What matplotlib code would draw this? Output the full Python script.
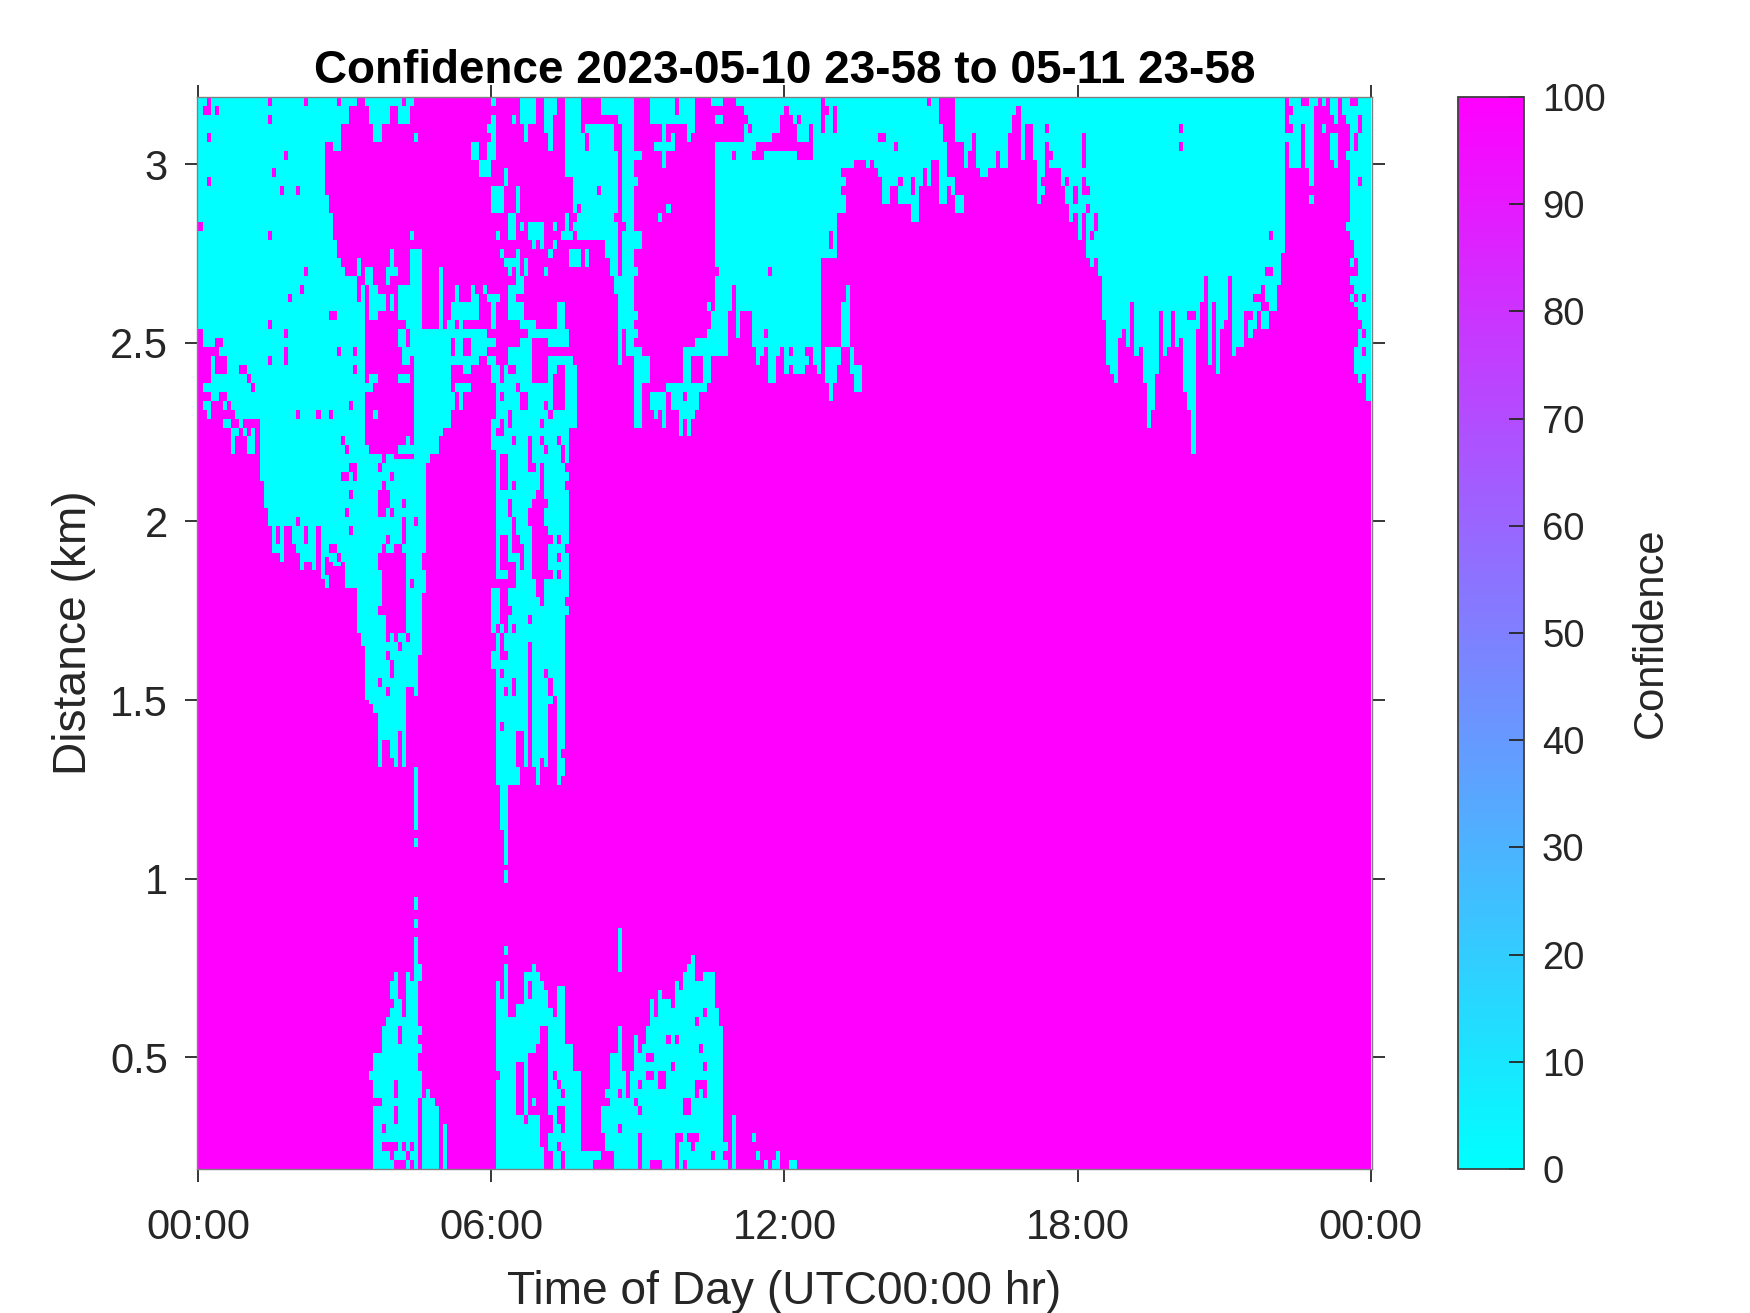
import numpy as np
import matplotlib
matplotlib.use('Agg')
import matplotlib.pyplot as plt

plt.rcParams['font.family'] = ['Liberation Sans', 'DejaVu Sans']

title_text = 'Confidence 2023-05-10 23-58 to 05-11 23-58'
x_label = 'Time of Day (UTC00:00 hr)'
y_label = 'Distance (km)'
cbar_label = 'Confidence'
x_ticks = [0, 6, 12, 18, 24]
x_tick_labels = ['00:00', '06:00', '12:00', '18:00', '00:00']
y_ticks = [0.5, 1, 1.5, 2, 2.5, 3]
y_tick_labels = ['0.5', '1', '1.5', '2', '2.5', '3']
cbar_ticks = list(range(0, 101, 10))

n_time = 288    # 5 min bins
n_range = 240   # 12.5 m gates
range_top = 3.1875
range_bottom = 0.1875

# lowest cyan gate (counted from the top) of columns that are cyan from the top down
top_mass_left = {0: 52, 1: 56, 2: 56, 3: 56, 4: 58, 5: 58, 6: 58, 7: 68, 8: 70, 9: 76, 10: 74, 11: 76,
                 12: 72, 13: 72, 14: 72, 15: 86, 16: 92, 17: 96, 18: 102, 19: 102, 20: 104, 21: 96,
                 22: 96, 23: 100, 24: 102, 25: 106, 26: 104, 27: 104, 28: 106, 29: 96, 30: 108}
top_mass_mid = {127: 56, 128: 56, 129: 56, 130: 48, 131: 42, 132: 54, 133: 48, 134: 48, 135: 48, 136: 56,
                137: 60, 138: 58, 139: 56, 140: 64, 141: 64, 142: 62, 143: 58, 144: 62, 145: 60, 146: 62,
                147: 62, 148: 62, 149: 60, 150: 60, 151: 60, 152: 62, 153: 48, 154: 64, 155: 68, 156: 64,
                157: 26, 158: 26, 159: 16, 160: 16, 161: 14, 162: 14, 163: 14, 164: 16}
top_mass_right = {165: 14, 166: 16, 167: 18, 168: 24, 169: 24, 170: 20, 171: 20, 172: 24, 173: 24, 174: 24,
                  175: 28, 176: 28, 177: 20, 178: 18, 179: 20, 180: 14, 181: 14, 182: 24, 183: 24, 184: 24,
                  185: 22, 186: 26, 187: 26, 188: 16, 189: 12, 190: 8, 191: 16, 192: 18, 193: 18, 194: 16,
                  195: 16, 196: 12, 197: 16, 198: 16, 199: 8, 200: 4, 201: 2, 202: 14, 203: 6, 204: 6,
                  205: 14, 206: 24, 207: 22, 208: 14, 209: 16, 210: 16, 211: 16, 212: 20, 213: 24, 214: 28,
                  215: 26, 216: 32, 217: 26, 218: 36, 219: 38, 220: 36, 221: 40, 222: 50, 223: 60, 224: 62,
                  225: 64, 226: 54, 227: 52, 228: 56, 229: 46, 230: 58, 231: 56, 232: 64, 233: 74, 234: 70,
                  235: 62, 236: 48, 237: 58, 238: 56, 239: 48, 240: 56, 241: 54, 242: 66, 243: 70, 244: 80,
                  245: 52, 246: 46, 247: 40, 248: 60, 249: 46, 250: 62, 251: 52, 252: 50, 253: 40, 254: 58,
                  255: 56, 256: 56, 257: 48, 258: 54, 259: 52, 260: 48, 261: 52, 262: 52, 263: 50, 264: 48,
                  265: 42, 266: 35}

# first and last cyan gate per column under the left mass and the 06-07h plume
lower_left_spans = {31: (22, 110), 32: (26, 104), 33: (32, 105), 34: (36, 105), 35: (38, 105), 36: (40, 110),
                    37: (40, 110), 38: (40, 110), 39: (46, 120), 40: (42, 123), 41: (80, 135), 42: (80, 136),
                    43: (80, 138), 44: (80, 150), 45: (80, 144), 46: (80, 144), 47: (80, 148), 48: (80, 150),
                    49: (80, 142), 50: (80, 150), 51: (80, 132), 52: (80, 132), 53: (80, 134), 54: (80, 125),
                    55: (80, 111), 56: (80, 82)}

# other cyan patches: first col, stop col, first gate, stop gate
cyan_patches = [
    (3, 4, 58, 64), (4, 7, 62, 66), (1, 5, 64, 66), (3, 5, 66, 68), (1, 3, 68, 70), (2, 3, 70, 72),
    (6, 7, 68, 70), (6, 8, 72, 74), (8, 9, 74, 80), (12, 14, 76, 80), (13, 14, 74, 76),
    (31, 33, 0, 10), (33, 35, 0, 12), (35, 37, 0, 6), (37, 39, 0, 2),
    (41, 48, 0, 2), (42, 47, 2, 6), (43, 45, 6, 10), (48, 50, 0, 2), (51, 53, 0, 2), (49, 52, 2, 6), (53, 54, 8, 10),
    (39, 40, 36, 40), (41, 43, 38, 42), (42, 44, 42, 50), (43, 46, 44, 48), (47, 48, 44, 48),
    (46, 49, 38, 40), (47, 48, 34, 38), (46, 47, 40, 42), (49, 55, 42, 50), (52, 55, 34, 42), (52, 53, 30, 32),
    (51, 55, 50, 52), (49, 51, 52, 56), (52, 57, 52, 58), (49, 52, 62, 64), (42, 44, 62, 64), (40, 43, 64, 66),
    (43, 44, 70, 72), (41, 42, 78, 80), (51, 52, 76, 80), (49, 53, 78, 80), (53, 58, 58, 80), (50, 52, 56, 60),
    (55, 62, 52, 72), (59, 60, 38, 52), (60, 62, 72, 74), (58, 60, 72, 76), (58, 59, 76, 80), (62, 63, 66, 70),
    (63, 64, 42, 46), (62, 69, 46, 50), (67, 68, 42, 46), (61, 63, 50, 54), (64, 65, 50, 52), (62, 70, 52, 54),
    (63, 65, 54, 56), (67, 69, 54, 56), (63, 65, 56, 58), (67, 71, 56, 58), (61, 69, 58, 60), (65, 67, 60, 62),
    (63, 67, 64, 66), (64, 65, 66, 70), (70, 71, 42, 44), (71, 74, 44, 46), (72, 73, 46, 52), (71, 73, 54, 56),
    (71, 73, 58, 60), (67, 69, 44, 50), (67, 71, 52, 54), (69, 73, 54, 56),
    (72, 73, 0, 2), (72, 73, 4, 10), (71, 72, 6, 8), (67, 69, 10, 14), (69, 72, 14, 18), (71, 73, 10, 14),
    (72, 75, 20, 26), (75, 76, 16, 20), (76, 78, 26, 32), (78, 79, 20, 26), (77, 78, 4, 6),
    (79, 83, 0, 6), (80, 81, 6, 10), (85, 88, 0, 4), (85, 87, 4, 8), (86, 87, 8, 12),
    (90, 94, 0, 12), (94, 97, 6, 12), (99, 103, 0, 4), (97, 102, 6, 12), (90, 103, 12, 16), (92, 103, 16, 32), (90, 92, 16, 18),
    (100, 103, 32, 36), (101, 103, 36, 40), (102, 104, 40, 44), (103, 107, 0, 6), (104, 107, 6, 44),
    (103, 107, 44, 52), (105, 108, 52, 58), (106, 109, 56, 58), (107, 111, 58, 64), (107, 109, 64, 74),
    (103, 104, 50, 60), (107, 109, 12, 14), (107, 108, 18, 20), (107, 109, 30, 34), (107, 108, 38, 40),
    (107, 108, 48, 50), (73, 74, 30, 32), (79, 80, 28, 30), (81, 85, 28, 32), (82, 83, 32, 34), (84, 85, 32, 34),
    (87, 88, 28, 30), (87, 88, 32, 34), (86, 87, 34, 36), (74, 75, 34, 36), (75, 79, 36, 38), (78, 79, 34, 40),
    (80, 81, 36, 40), (76, 77, 38, 40), (78, 80, 40, 44), (85, 86, 38, 40), (89, 92, 30, 32), (90, 91, 26, 30),
    (91, 94, 34, 38), (95, 96, 34, 38), (76, 78, 42, 46), (76, 80, 46, 50), (79, 83, 50, 52), (81, 87, 52, 54),
    (88, 90, 46, 52), (86, 91, 52, 56),
    # plume 06-07h
    (72, 73, 60, 64), (72, 73, 72, 74), (72, 91, 60, 79), (76, 82, 56, 60), (79, 82, 54, 56), (86, 92, 58, 60),
    (91, 93, 60, 74), (73, 91, 79, 116), (72, 73, 110, 120), (72, 73, 124, 128), (73, 90, 116, 148),
    (73, 79, 148, 154), (79, 81, 148, 150), (82, 84, 148, 150), (83, 84, 150, 154), (85, 86, 148, 150),
    (88, 90, 148, 152), (88, 89, 152, 154), (74, 76, 154, 164), (75, 76, 164, 172), (75, 76, 173, 176), (75, 76, 190, 192),
    (53, 54, 150, 164), (53, 54, 166, 168),
    # upper middle
    (111, 112, 0, 2), (112, 117, 0, 4), (111, 113, 2, 6), (112, 122, 4, 6), (114, 115, 6, 16), (112, 116, 10, 12),
    (116, 117, 8, 12), (118, 122, 0, 4), (120, 121, 6, 10), (121, 122, 6, 8), (126, 129, 0, 2), (127, 128, 4, 6),
    (131, 133, 0, 2), (133, 134, 0, 2), (115, 116, 24, 26), (113, 114, 26, 28), (125, 126, 46, 48), (125, 126, 52, 54),
    # trough round 09-11h
    (111, 115, 66, 70), (112, 113, 70, 72), (114, 115, 70, 74), (116, 123, 64, 70), (118, 122, 70, 72),
    (118, 119, 72, 76), (120, 121, 72, 76), (115, 125, 64, 66), (119, 126, 56, 64), (121, 130, 56, 58),
    (122, 130, 54, 56), (126, 130, 48, 56), (127, 131, 42, 48), (157, 160, 46, 56), (159, 160, 42, 46),
    (154, 158, 56, 60), (154, 157, 30, 36), (160, 161, 56, 62), (161, 163, 60, 66),
    # far right
    (267, 268, 8, 10), (268, 271, 0, 16), (271, 272, 2, 6), (272, 273, 2, 16), (273, 274, 0, 20), (273, 274, 22, 24),
    (274, 275, 0, 2), (276, 277, 0, 2), (276, 277, 6, 8), (278, 279, 0, 4), (278, 279, 8, 14), (279, 280, 0, 6),
    (279, 280, 8, 16), (281, 282, 0, 4), (282, 283, 0, 6), (282, 283, 12, 14), (282, 283, 28, 30),
    (283, 284, 0, 32), (283, 284, 36, 38), (283, 284, 40, 42), (283, 284, 44, 46), (284, 285, 0, 36),
    (284, 285, 40, 44), (284, 285, 46, 47), (284, 285, 56, 62), (285, 286, 0, 50), (285, 286, 52, 62),
    (285, 286, 62, 64), (286, 287, 0, 52), (286, 287, 54, 56), (286, 287, 58, 62), (287, 288, 0, 68),
    # low level clusters
    (42, 43, 218, 220), (43, 45, 214, 240), (45, 46, 208, 240), (46, 47, 206, 240), (47, 48, 198, 202), (47, 48, 204, 240),
    (48, 49, 196, 240), (49, 50, 202, 208), (49, 50, 212, 240), (50, 51, 206, 240), (51, 52, 196, 240),
    (52, 53, 198, 240), (53, 54, 179, 182), (53, 54, 184, 186), (53, 54, 188, 240), (54, 55, 194, 198),
    (54, 55, 208, 210), (54, 55, 212, 214), (54, 55, 218, 224), (55, 56, 224, 240), (56, 57, 222, 240),
    (57, 58, 224, 240), (58, 59, 226, 240), (60, 61, 230, 240),
    (73, 74, 198, 218), (73, 74, 220, 240), (74, 75, 202, 240), (75, 76, 194, 240), (76, 78, 206, 240),
    (78, 80, 203, 240), (80, 81, 196, 240), (81, 82, 196, 198), (81, 82, 202, 240), (82, 83, 194, 240),
    (83, 84, 196, 240), (84, 85, 198, 240), (85, 86, 200, 240), (86, 87, 204, 240), (87, 88, 206, 240),
    (88, 90, 199, 240), (90, 92, 212, 240), (92, 94, 218, 240), (94, 97, 236, 240), (97, 99, 236, 238),
    (99, 100, 226, 232), (100, 101, 222, 224), (100, 101, 226, 236), (101, 102, 214, 236), (102, 103, 214, 240),
    (103, 104, 186, 196), (103, 104, 208, 240), (104, 107, 218, 240), (107, 108, 210, 240), (108, 109, 214, 240),
    (109, 110, 212, 240), (110, 111, 208, 240), (111, 112, 202, 240), (112, 113, 206, 238), (113, 114, 200, 240),
    (114, 116, 202, 240), (116, 117, 204, 240), (117, 118, 198, 240), (118, 119, 200, 240), (119, 120, 196, 240),
    (120, 121, 194, 240), (121, 122, 192, 240), (122, 124, 198, 240), (124, 127, 196, 240), (127, 128, 204, 240),
    (128, 129, 208, 240), (129, 130, 234, 236), (129, 130, 238, 240), (131, 132, 228, 240), (136, 137, 232, 234),
    (137, 138, 236, 238), (139, 140, 238, 240), (141, 142, 238, 240), (142, 143, 236, 240), (145, 147, 238, 240),
]

# magenta cells punched back into the cyan
magenta_patches = [
    (2, 3, 0, 2), (1, 3, 2, 4), (4, 5, 2, 4), (17, 18, 0, 2), (26, 27, 0, 2), (34, 35, 0, 2), (17, 18, 4, 6), (2, 3, 8, 10),
    (21, 22, 12, 14), (18, 19, 16, 18), (2, 3, 18, 20), (20, 21, 20, 22), (24, 25, 20, 22), (0, 1, 28, 30),
    (17, 18, 30, 32), (26, 27, 38, 40), (25, 26, 42, 44), (22, 23, 44, 46), (32, 34, 48, 50), (17, 18, 50, 52),
    (21, 22, 52, 54), (34, 35, 56, 58), (21, 22, 56, 60), (17, 18, 58, 60), (38, 39, 56, 58), (38, 39, 60, 62),
    (37, 38, 68, 70), (24, 25, 70, 72), (29, 30, 70, 72), (32, 33, 70, 72), (35, 36, 76, 78), (36, 37, 78, 80),
    (38, 39, 82, 86), (35, 37, 84, 86), (3, 5, 56, 58), (4, 6, 54, 56), (10, 12, 60, 62), (12, 13, 62, 64), (13, 14, 64, 66),
    (9, 10, 72, 74), (11, 12, 72, 74), (5, 7, 66, 68), (24, 25, 94, 96), (26, 27, 96, 100), (19, 20, 96, 100),
    (32, 34, 100, 102), (34, 35, 102, 104), (29, 30, 96, 108), (37, 39, 82, 84), (37, 38, 88, 90), (36, 37, 92, 94),
    (37, 38, 96, 98), (31, 32, 103, 107), (35, 36, 104, 106),
    (46, 51, 102, 120), (44, 46, 102, 106), (45, 46, 106, 114), (44, 46, 114, 116),
    (44, 45, 82, 84), (45, 46, 80, 82), (47, 48, 84, 86), (45, 46, 86, 88), (44, 47, 88, 92), (50, 51, 90, 92),
    (44, 46, 92, 94), (47, 48, 92, 94), (50, 51, 94, 100), (53, 54, 94, 96), (46, 47, 98, 100), (45, 46, 100, 102),
    (48, 50, 100, 102), (52, 53, 108, 110), (46, 47, 120, 122), (48, 49, 120, 122), (51, 52, 120, 122), (49, 50, 122, 124),
    (46, 47, 124, 126), (47, 48, 126, 130), (44, 45, 130, 132), (46, 47, 132, 134), (55, 56, 102, 106), (48, 53, 80, 81),
    (74, 76, 80, 88), (77, 78, 86, 88), (76, 77, 90, 94), (77, 78, 94, 100), (78, 79, 98, 100), (77, 80, 100, 102),
    (74, 76, 98, 104), (74, 78, 104, 106), (76, 78, 106, 110), (73, 78, 108, 110), (74, 76, 110, 118), (76, 77, 114, 116),
    (73, 74, 118, 120), (75, 76, 118, 120), (77, 78, 118, 120), (74, 75, 120, 124), (74, 76, 124, 126),
    (74, 75, 128, 130), (77, 78, 130, 134), (75, 76, 132, 134), (74, 75, 140, 142), (79, 80, 102, 106), (81, 82, 79, 84),
    (84, 85, 82, 88), (83, 85, 88, 90), (82, 86, 90, 92), (81, 85, 92, 96), (82, 86, 96, 98), (82, 87, 98, 100),
    (82, 86, 100, 106), (82, 87, 106, 108), (83, 85, 108, 112), (84, 85, 112, 114), (81, 82, 116, 118),
    (88, 89, 98, 100), (88, 89, 102, 104), (88, 89, 106, 108), (90, 91, 100, 102), (90, 91, 112, 114), (85, 86, 79, 80),
    (89, 90, 79, 82), (90, 91, 82, 84), (90, 91, 86, 88), (81, 82, 122, 148), (85, 86, 128, 130), (86, 87, 130, 134),
    (87, 88, 134, 148), (86, 87, 136, 148), (78, 80, 142, 150), (89, 90, 146, 148),
    (74, 75, 66, 68), (78, 79, 64, 66), (79, 81, 66, 70), (76, 77, 70, 74), (74, 75, 72, 74), (77, 78, 76, 78),
    (74, 75, 60, 62), (76, 78, 60, 62), (74, 75, 62, 64), (72, 73, 64, 72), (73, 75, 74, 76), (81, 82, 76, 82), (81, 83, 82, 84),
    (84, 85, 72, 74), (84, 85, 76, 78), (85, 86, 78, 80), (88, 89, 76, 78), (89, 90, 78, 82), (82, 86, 60, 64),
    (87, 88, 62, 70), (88, 90, 60, 70), (85, 86, 68, 70), (86, 87, 70, 72),
    (98, 99, 20, 22), (91, 92, 18, 22), (93, 94, 24, 26), (91, 93, 26, 28), (102, 104, 26, 28), (104, 105, 28, 30),
    (92, 93, 30, 34), (98, 99, 32, 36), (95, 96, 8, 12), (94, 95, 6, 8), (102, 103, 4, 6), (103, 104, 12, 40),
    (107, 108, 54, 56), (105, 106, 60, 62), (121, 124, 58, 64), (119, 120, 66, 68),
    (127, 129, 2, 4), (127, 129, 6, 10), (129, 132, 0, 10), (132, 134, 2, 10), (134, 135, 4, 6), (135, 136, 6, 8), (131, 132, 12, 14),
    (144, 145, 2, 4), (143, 146, 4, 6), (143, 147, 6, 8), (141, 147, 8, 10), (137, 151, 10, 12), (136, 139, 12, 14),
    (147, 151, 12, 14), (147, 148, 4, 6), (150, 151, 6, 10), (153, 154, 0, 8), (154, 155, 2, 4), (156, 157, 2, 8),
    (168, 169, 8, 10), (140, 141, 38, 40), (158, 159, 16, 18), (158, 159, 20, 22), (127, 128, 38, 40), (131, 132, 42, 48),
    (139, 140, 52, 54), (143, 144, 56, 58), (145, 146, 56, 58), (142, 143, 58, 62), (149, 150, 56, 58), (150, 151, 56, 60),
    (153, 155, 36, 48), (154, 158, 36, 56), (157, 158, 30, 36), (155, 156, 30, 34),
    (167, 168, 8, 10), (171, 172, 10, 12), (165, 166, 14, 16), (179, 180, 0, 2), (182, 186, 0, 6), (183, 186, 6, 10), (184, 188, 10, 18),
    (184, 185, 20, 24), (186, 188, 10, 22), (172, 173, 18, 20), (175, 176, 18, 22), (170, 172, 20, 24), (178, 179, 16, 20),
    (208, 209, 6, 8), (208, 209, 10, 16), (209, 210, 12, 14), (217, 218, 8, 16), (217, 218, 18, 22), (218, 219, 20, 22),
    (213, 214, 18, 20), (215, 216, 20, 24), (218, 219, 24, 26), (217, 218, 26, 36), (220, 221, 26, 30), (219, 220, 30, 32),
    (241, 242, 6, 8), (241, 242, 10, 12), (263, 264, 30, 32), (262, 264, 38, 40), (261, 262, 42, 44), (259, 262, 44, 46),
    (261, 263, 46, 48), (257, 259, 48, 50), (260, 261, 48, 52), (263, 264, 48, 50), (243, 245, 48, 50), (207, 208, 18, 20),
    (283, 285, 0, 2), (285, 286, 4, 8), (284, 285, 8, 12), (285, 286, 18, 20), (268, 269, 2, 4), (268, 269, 6, 8), (286, 287, 44, 46),
    # low level holes
    (43, 45, 224, 226), (48, 49, 220, 224), (48, 49, 226, 230), (45, 46, 230, 232), (45, 49, 234, 236), (47, 48, 236, 238),
    (48, 51, 238, 240), (50, 51, 234, 236), (52, 53, 234, 236), (51, 52, 236, 238), (52, 53, 238, 240), (49, 50, 208, 212),
    (78, 80, 216, 228), (80, 81, 228, 230), (81, 82, 214, 228), (82, 83, 214, 224), (82, 83, 226, 228), (83, 84, 212, 228),
    (84, 86, 208, 235), (86, 87, 228, 232), (86, 87, 236, 238), (85, 87, 238, 240), (87, 88, 218, 220), (88, 89, 220, 222),
    (89, 90, 222, 224), (88, 89, 226, 230), (89, 90, 226, 232), (89, 90, 236, 240), (88, 89, 234, 236), (85, 86, 235, 238),
    (110, 112, 214, 216), (110, 112, 218, 220), (113, 115, 218, 222), (115, 116, 210, 212), (117, 118, 210, 212),
    (116, 117, 216, 218), (122, 123, 206, 208), (124, 125, 204, 206), (123, 124, 212, 214), (124, 125, 216, 218),
    (122, 125, 220, 222), (122, 123, 222, 224), (124, 125, 222, 224), (119, 121, 224, 228), (117, 119, 232, 234),
    (117, 118, 234, 240), (120, 123, 232, 234), (121, 122, 234, 236), (119, 120, 238, 240), (113, 114, 238, 240),
    (111, 112, 238, 240), (108, 109, 232, 240), (126, 127, 236, 238), (103, 104, 222, 224), (103, 104, 230, 232),
    (105, 106, 218, 224), (107, 108, 224, 226), (108, 109, 226, 228), (108, 109, 220, 222),
]

# the value for cyan is 0 and for magenta 100, nothing in between shows up
cyan_value = 0
magenta_value = 100

conf = np.full((n_range, n_time), magenta_value, dtype=float)
for table in [top_mass_left, top_mass_mid, top_mass_right]:
    for col, last in table.items():
        conf[:last, col] = cyan_value
for col, (first, last) in lower_left_spans.items():
    conf[first:last, col] = cyan_value
for c0, c1, r0, r1 in cyan_patches:
    conf[r0:r1, c0:c1] = cyan_value
for c0, c1, r0, r1 in magenta_patches:
    conf[r0:r1, c0:c1] = magenta_value

time_edges = np.linspace(0, 24, n_time + 1)
dist_edges = np.linspace(range_top, range_bottom, n_range + 1)

dark = '#262626'
fig = plt.figure(figsize=(17.5, 13.13), dpi=100)
ax = fig.add_axes([197/1750, 1-1169/1313, 1175/1750, 1072/1313])
mesh = ax.pcolormesh(time_edges, dist_edges, conf, cmap='cool', vmin=0, vmax=100, rasterized=True)
ax.set_xlim(-0.03, 24.03)
ax.set_ylim(range_bottom, range_top)
ax.set_xticks(x_ticks)
ax.set_xticklabels(x_tick_labels)
ax.set_yticks(y_ticks)
ax.set_yticklabels(y_tick_labels)
ax.tick_params(axis='both', direction='out', length=9, width=1.3, colors=dark, labelsize=30, top=True, right=True)
ax.tick_params(axis='x', pad=19)
ax.tick_params(axis='y', pad=12)
for s in ax.spines.values():
    s.set_color('#808080')
    s.set_linewidth(1.0)
ax.set_xlabel(x_label, fontsize=33.2, color=dark, labelpad=16)
ax.set_ylabel(y_label, fontsize=33.2, color=dark, labelpad=10)
ax.set_title(title_text, fontsize=33, fontweight='bold', color='black', pad=10)

cax = fig.add_axes([1458/1750, 1-1169/1313, 66/1750, 1072/1313])
cb = fig.colorbar(mesh, cax=cax)
cb.set_ticks(cbar_ticks)
cb.ax.tick_params(direction='in', length=11, width=1.3, colors=dark, labelsize=27.5, pad=13, right=True)
cb.outline.set_edgecolor('#404040')
cb.outline.set_linewidth(1.3)
cb.set_label(cbar_label, fontsize=30, color=dark, labelpad=18)

fig.savefig('out.png', dpi=100)
